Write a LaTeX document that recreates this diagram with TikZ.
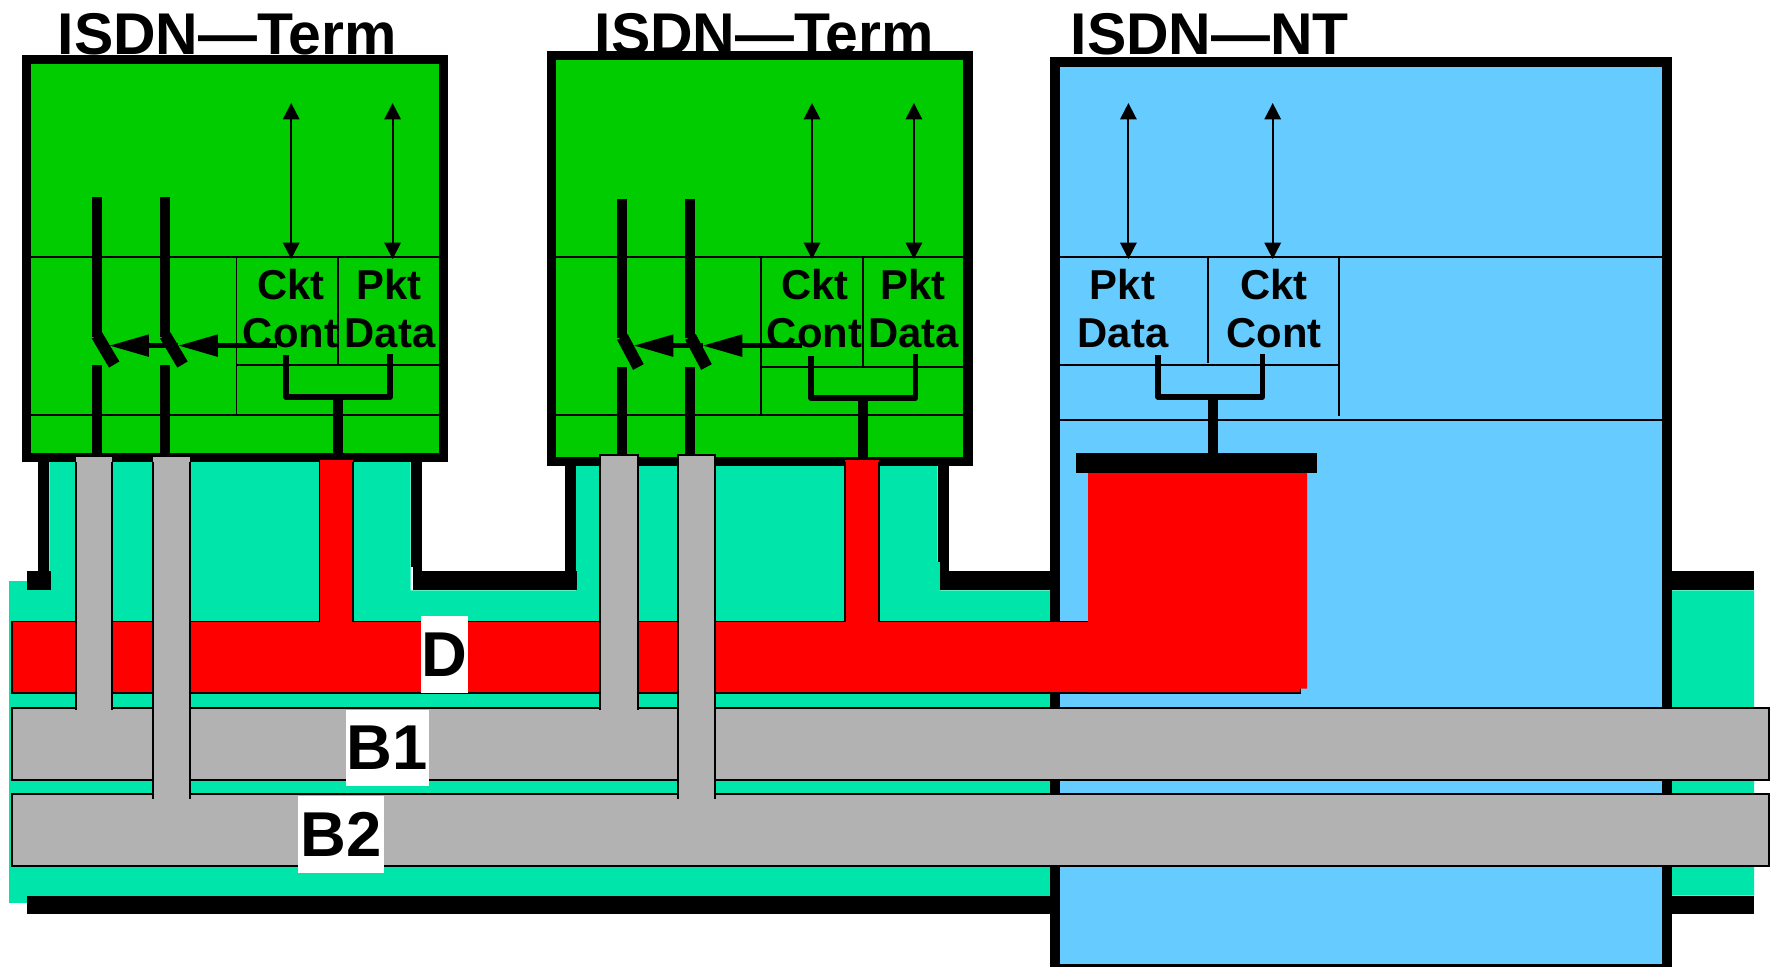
\documentclass[tikz,border=0pt]{standalone}
\usepackage{xcolor}
\usepackage{fontspec}
\setmainfont{Liberation Sans}
\usepackage{tikz}
\usetikzlibrary{arrows.meta}
\definecolor{termgreen}{RGB}{0,204,0}
\definecolor{ntblue}{RGB}{102,204,255}
\definecolor{busteal}{RGB}{0,230,170}
\definecolor{busgray}{RGB}{178,178,178}
\tikzset{
  unit/.style={line width=2.6pt},
  thinline/.style={line width=0.55pt},
  wire/.style={line width=2.8pt},
  blade/.style={line width=3.4pt},
  fork/.style={line width=1.55pt, line join=round},
  updown/.style={line width=0.55pt, {Triangle[length=4.6pt,width=4.6pt]}-{Triangle[length=4.6pt,width=4.6pt]}},
  control/.style={line width=1.3pt, -{Triangle[length=11.2pt,width=6pt]}},
  title/.style={anchor=base west, inner sep=0pt, font=\fontsize{16.63}{18}\selectfont\bfseries},
  func/.style={anchor=base, inner sep=0pt, font=\fontsize{11.8}{13}\selectfont\bfseries},
  chan/.style={fill=white, inner sep=0pt, font=\fontsize{17.9}{20}\selectfont\bfseries}
}
\begin{document}
\begin{tikzpicture}[x=0.28135bp, y=-0.28135bp]
\useasboundingbox (0,0) rectangle (1777,966.7);

\node[title] (title1) at (57,54) {ISDN—Term};
\node[title] (title2) at (594,54) {ISDN—Term};
\node[title] (title3) at (1070,54) {ISDN—NT};

\fill[busteal] (9,581.2) -- (49.4,581.2) -- (49.4,462) -- (410.6,462) -- (410.6,590.3) -- (576,590.3) -- (576,466)
  -- (937.5,466) -- (937.5,561.7) -- (940,561.7) -- (940,590.3) -- (1754,590.3) -- (1754,895.5) -- (1050,895.5) -- (1050,902.9) -- (9,902.9) -- cycle;

\fill (37.5,462) rectangle (49.4,571);
\fill (27,571) rectangle (51,590.3);
\fill (410.6,462) rectangle (422,567);
\fill (413,567) rectangle (422,571);
\fill (413,571) rectangle (577,590.3);
\fill (565,466) rectangle (576,571);
\fill (937.5,466) rectangle (949,561.7);
\fill (940,561.7) rectangle (949,571);
\fill (940,571) rectangle (1050,590.3);
\fill (1672,571) rectangle (1754,590.3);
\fill (27,895.5) rectangle (1050,914);
\fill (1672,895.5) rectangle (1754,914);

\draw[unit, fill=termgreen] (26.4,59.7) rectangle (443.2,457.5);
\draw[thinline] (31,257) -- (438.6,257);
\draw[thinline] (31,415) -- (438.6,415);
\draw[thinline] (236.5,257) -- (236.5,415);
\draw[thinline] (338.3,257) -- (338.3,365);
\draw[thinline] (236.5,365) -- (438.6,365);

\draw[unit, fill=termgreen] (551.2,55.8) rectangle (967.9,461.3);
\draw[thinline] (556,257) -- (963.3,257);
\draw[thinline] (556,415) -- (963.3,415);
\draw[thinline] (761.2,257) -- (761.2,415);
\draw[thinline] (863.4,257) -- (863.4,366.7);
\draw[thinline] (761.2,366.7) -- (963.3,366.7);

\draw[wire, fill=ntblue] (1054.6,62.3) rectangle (1667.2,969.4);
\draw[thinline] (1059.5,257) -- (1662.5,257);
\draw[thinline] (1059.5,420) -- (1662.5,420);
\draw[thinline] (1208.3,257) -- (1208.3,363);
\draw[thinline] (1339.2,257) -- (1339.2,415.7);
\draw[thinline] (1059.5,365) -- (1339.2,365);

\coordinate (ckt1top) at (291.2,103);
\coordinate (ckt1) at (291.2,259);
\coordinate (pkt1top) at (392.6,103);
\coordinate (pkt1) at (392.6,259);
\coordinate (ckt2top) at (812,103);
\coordinate (ckt2) at (812,259);
\coordinate (pkt2top) at (913.9,103);
\coordinate (pkt2) at (913.9,259);
\coordinate (pkt3top) at (1128.4,103);
\coordinate (pkt3) at (1128.4,259);
\coordinate (ckt3top) at (1272.7,103);
\coordinate (ckt3) at (1272.7,259);

\draw[updown] (ckt1top) -- (ckt1);
\draw[updown] (pkt1top) -- (pkt1);
\draw[updown] (ckt2top) -- (ckt2);
\draw[updown] (pkt2top) -- (pkt2);
\draw[updown] (pkt3top) -- (pkt3);
\draw[updown] (ckt3top) -- (ckt3);

\draw[wire] (97.2,197) -- (97.2,337);
\draw[wire] (97.2,365) -- (97.2,453);
\draw[wire] (165.3,197) -- (165.3,337);
\draw[wire] (165.3,365) -- (165.3,453);
\draw[blade] (97,335.5) -- (114.2,364.5);
\draw[blade] (165.3,335.5) -- (182.5,364.5);
\coordinate (ctl1) at (276.7,345.6);
\coordinate (sw1b) at (178.3,345.6);
\coordinate (sw1a) at (109.3,345.6);
\draw[control] (ctl1) -- (sw1b);
\draw[control] (sw1b) -- (sw1a);

\draw[wire] (621.9,199) -- (621.9,338);
\draw[wire] (621.9,367) -- (621.9,456);
\draw[wire] (690,199) -- (690,338);
\draw[wire] (690,367) -- (690,456);
\draw[blade] (622.4,337) -- (638.4,367);
\draw[blade] (690.5,337) -- (706.5,367);
\coordinate (ctl2) at (802,345.6);
\coordinate (sw2b) at (702.6,345.6);
\coordinate (sw2a) at (633.8,345.6);
\draw[control] (ctl2) -- (sw2b);
\draw[control] (sw2b) -- (sw2a);

\draw[fork] (285.9,355) -- (285.9,397) -- (390,397) -- (390,354);
\draw[wire] (337.9,397) -- (337.9,453);
\draw[fork] (811,356) -- (811,398) -- (915.4,398) -- (915.4,354);
\draw[wire] (863,398) -- (863,456.7);
\draw[fork] (1158.2,355) -- (1158.2,397) -- (1262.3,397) -- (1262.3,354);
\draw[wire] (1212.7,397) -- (1212.7,453.3);

\node[func] (cktA) at (291,299) {Ckt};
\node[func] (contA) at (290.5,347) {Cont};
\node[func] (pktA) at (389,299) {Pkt};
\node[func] (dataA) at (390,347) {Data};
\node[func] (cktB) at (815,299) {Ckt};
\node[func] (contB) at (814.5,347) {Cont};
\node[func] (pktB) at (913,299) {Pkt};
\node[func] (dataB) at (913.5,347) {Data};
\node[func] (pktC) at (1122.5,299) {Pkt};
\node[func] (dataC) at (1123,347) {Data};
\node[func] (cktC) at (1274,299) {Ckt};
\node[func] (contC) at (1274,347) {Cont};

\draw[thinline, fill=red] (12.2,621.5) rectangle (1300,692.8);
\fill[red] (1088,622) rectangle (1300,692) (1088,472.7) rectangle (1307.2,688.7);
\fill (1076.4,453.3) rectangle (1317.4,472.7);
\fill[red] (319.5,460) rectangle (353,623);
\draw[thinline] (319.5,462) -- (319.5,621.5) (353,462) -- (353,621.5);
\fill[red] (845,460) rectangle (879,623);
\draw[thinline] (845,462) -- (845,621.5) (879,462) -- (879,621.5);

\draw[thinline, fill=busgray] (12.2,707.6) rectangle (1768.6,780.2);
\draw[thinline, fill=busgray] (12.2,794) rectangle (1768.6,866.2);

\fill[busgray] (75.8,456.8) rectangle (112,709.6);
\draw[thinline] (75.8,462) -- (75.8,709.6) (112,462) -- (112,709.6);
\fill[busgray] (153,456.8) rectangle (190,798.7);
\draw[thinline] (153,462) -- (153,798.7) (190,462) -- (190,798.7);
\fill[busgray] (600,455) rectangle (637.6,709.6);
\draw[thinline] (600,709.6) -- (600,455) -- (637.6,455) -- (637.6,709.6);
\fill[busgray] (677.8,455) rectangle (714.9,798.7);
\draw[thinline] (677.8,798.7) -- (677.8,455) -- (714.9,455) -- (714.9,798.7);

\node[chan, minimum width=47*0.2824pt, minimum height=76.8*0.2824pt] (chD) at (444.5,654.4) {D};
\node[chan, minimum width=83*0.2824pt, minimum height=76.6*0.2824pt] (chB1) at (387.5,747.9) {B1};
\node[chan, minimum width=86*0.2824pt, minimum height=77*0.2824pt] (chB2) at (341,834.1) {B2};
\end{tikzpicture}
\end{document}
